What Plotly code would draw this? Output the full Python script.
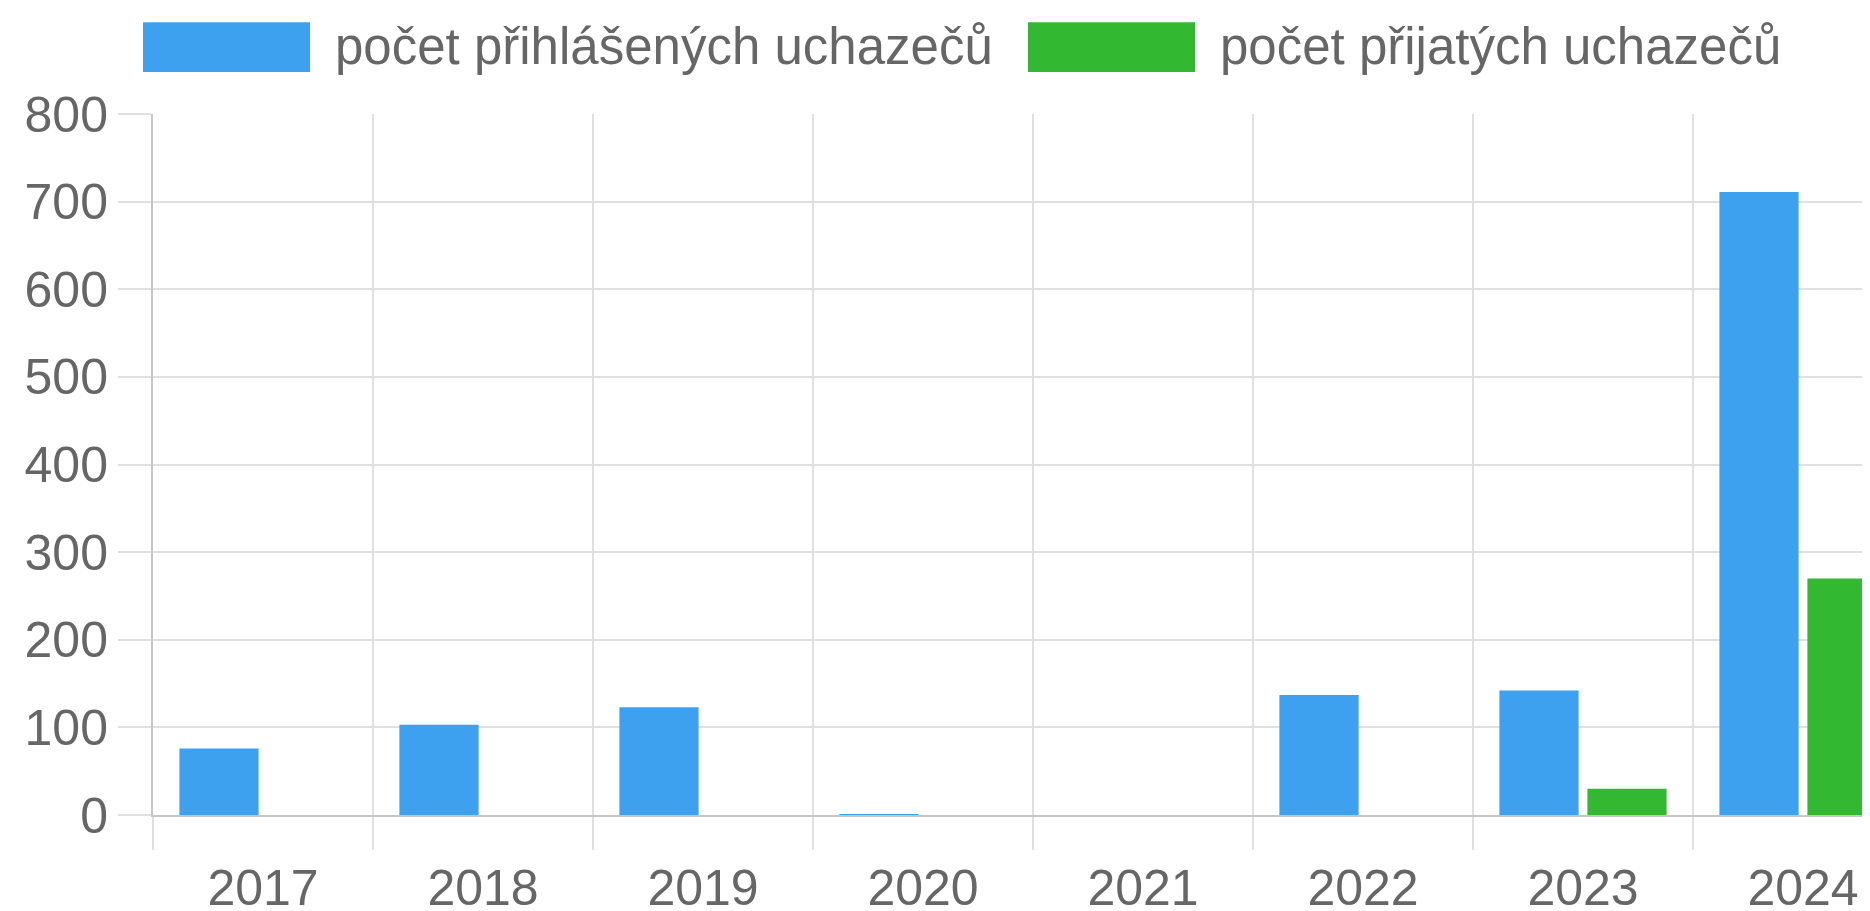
import plotly.graph_objects as go

years = ["2017", "2018", "2019", "2020", "2021", "2022", "2023", "2024"]
prihlaseni = [76, 103, 123, 1, 0, 137, 142, 711]
prijati = [0, 0, 0, 0, 0, 0, 30, 270]
series_names = ["počet přihlášených uchazečů", "počet přijatých uchazečů"]
y_ticks = [0, 100, 200, 300, 400, 500, 600, 700, 800]

BLUE = "#3ea1ef"
GREEN = "#33b832"
TXT = "#666666"
GRID = "#e0e0e0"
AXIS = "#c6c6c6"
FONT = "Liberation Sans, Arial, Helvetica, sans-serif"

OFF = 8  # default page body margin
W, H = 1870 - 2 * OFF, 911 - OFF
# target pixel positions in the page
L_pg, T_pg, B_pg = 153, 113.5, 815.5
L, T = L_pg - OFF, T_pg - OFF
B = H - (B_pg - OFF)
R = 0
PW, PH = W - L - R, H - T - B

def px(x):
    return (x - OFF - L) / PW

def py(y):
    return (B_pg - y) / PH

fig = go.Figure()
fig.add_trace(go.Bar(x=years, y=prihlaseni, name=series_names[0], marker=dict(color=BLUE, line=dict(width=0))))
fig.add_trace(go.Bar(x=years, y=prijati, name=series_names[1], marker=dict(color=GREEN, line=dict(width=0))))

cat_w = 220.0
x_end = -0.5 + PW / cat_w

shapes = []
annotations = []
legend_items = [(143, 310, 333, BLUE, series_names[0]), (1028, 1195, 1218, GREEN, series_names[1])]
for x0, x1, tx, col, name in legend_items:
    shapes.append(dict(type="rect", xref="paper", yref="paper", x0=px(x0), x1=px(x1),
                       y0=py(71.5), y1=py(21.5), fillcolor=col, line=dict(width=0), layer="above"))
    annotations.append(dict(text=name, xref="paper", yref="paper", x=px(tx), y=py(46),
                            xanchor="left", yanchor="middle", showarrow=False,
                            font=dict(family=FONT, size=51, color=TXT)))

fig.update_layout(
    width=W, height=H,
    margin=dict(l=L, r=R, t=T, b=B, pad=0, autoexpand=False),
    paper_bgcolor="white", plot_bgcolor="white",
    barmode="group", bargap=0.2, bargroupgap=0.1,
    showlegend=False,
    shapes=shapes, annotations=annotations,
    font=dict(family=FONT, size=50, color=TXT),
)
fig.update_xaxes(
    type="category", range=[-0.5, x_end], tickson="boundaries",
    showgrid=True, gridcolor=GRID, gridwidth=2,
    showline=True, linecolor=AXIS, linewidth=2,
    ticks="outside", ticklen=33, tickwidth=2, tickcolor=GRID,
    ticklabelstandoff=28, automargin=False,
    tickfont=dict(family=FONT, size=50, color=TXT),
    zeroline=False, fixedrange=True,
)
fig.update_yaxes(
    range=[0, 800], tickvals=y_ticks,
    showgrid=True, gridcolor=GRID, gridwidth=2,
    showline=True, linecolor=AXIS, linewidth=2,
    ticks="outside", ticklen=33, tickwidth=2, tickcolor=GRID,
    automargin=False,
    tickfont=dict(family=FONT, size=50, color=TXT),
    zeroline=False, fixedrange=True,
)

fig.write_html("out.html", config={"displayModeBar": False})
